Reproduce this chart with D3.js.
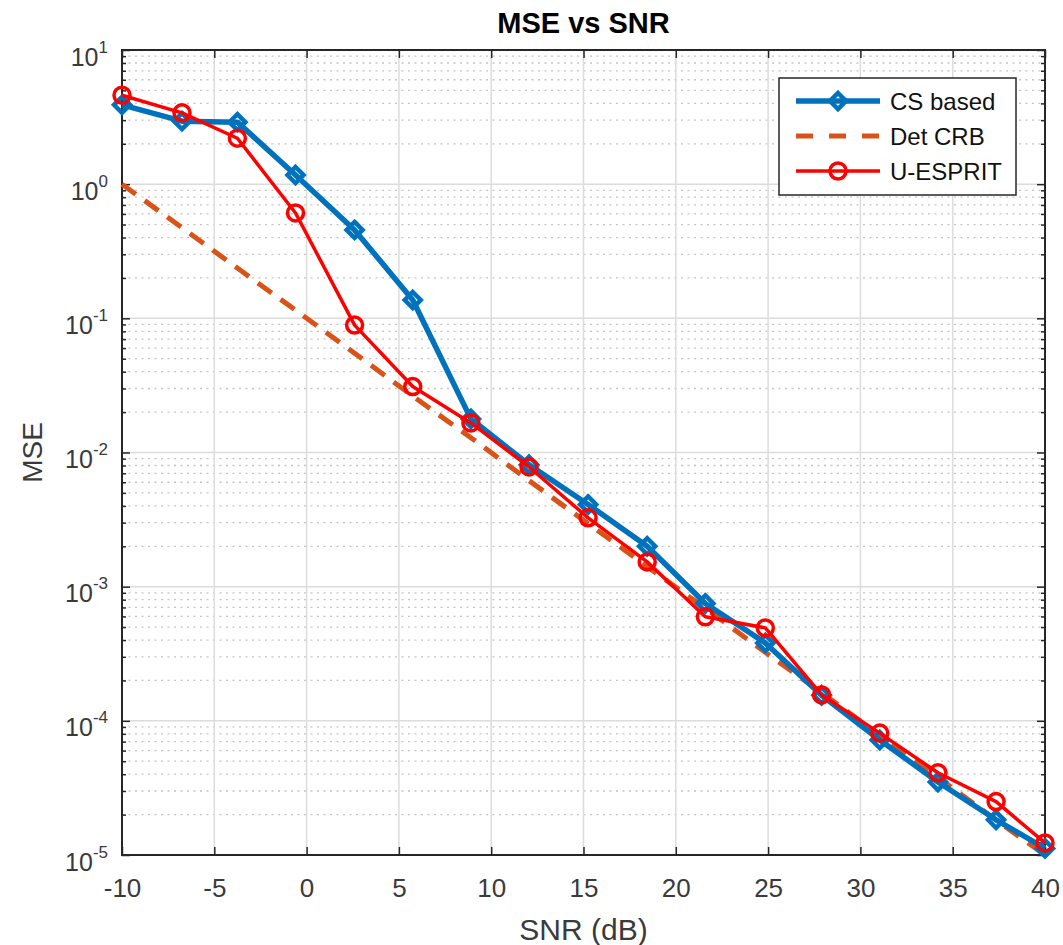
<!DOCTYPE html>
<html>
<head>
<meta charset="utf-8">
<script src="https://d3js.org/d3.v7.min.js"></script>
<style>
  body { margin: 0; background: #fff; }
  text { font-family: "Liberation Sans", Arial, sans-serif; }
</style>
</head>
<body>
<script>
const width = 1063
const height = 945
const plotLeft = 122, plotRight = 1045, plotTop = 50, plotBottom = 855

// data
const snr = [-10, -6.75, -3.75, -0.6, 2.6, 5.75, 8.9, 12.05, 15.25, 18.45, 21.6, 24.85, 27.9, 31.05, 34.2, 37.35, 40]
const csBased = [3.9, 2.95, 2.9, 1.17, 0.456, 0.137, 0.0178, 0.0081, 0.0041, 0.002, 0.00075, 0.00038, 0.000155, 7.2e-5, 3.5e-5, 1.83e-5, 1.12e-5]
const detCRB = [1.0, 0.473, 0.237, 0.115, 0.055, 0.0263, 0.0129, 0.00617, 0.00295, 0.00141, 0.00069, 0.000324, 0.000162, 7.8e-5, 3.8e-5, 1.82e-5, 1.0e-5]
const uEsprit = [4.6, 3.4, 2.2, 0.61, 0.089, 0.031, 0.0166, 0.0078, 0.00326, 0.00153, 0.000596, 0.000493, 0.000156, 8.1e-5, 4.1e-5, 2.5e-5, 1.23e-5]
const xTicks = [-10, -5, 0, 5, 10, 15, 20, 25, 30, 35, 40]
const yExponents = [1, 0, -1, -2, -3, -4, -5]
const legendLabels = ["CS based", "Det CRB", "U-ESPRIT"]

const blue = "#0072BD", orange = "#D95319", red = "#FF0000"
const axisColor = "#262626", labelColor = "#3a3a3a"

const svg = d3.select("body").append("svg").attr("width", width).attr("height", height)

const x = d3.scaleLinear().domain([-10, 40]).range([plotLeft, plotRight])
const y = d3.scaleLog().domain([1e-5, 10]).range([plotBottom, plotTop])

const majorY = yExponents.map(e => Math.pow(10, e))
const minorY = []
yExponents.slice(1).forEach(e => { for (let m = 2; m <= 9; m++) minorY.push(m * Math.pow(10, e)) })

// grid
const grid = svg.append("g")
grid.selectAll(".minor").data(minorY).enter().append("line")
    .attr("x1", plotLeft).attr("x2", plotRight)
    .attr("y1", d => y(d)).attr("y2", d => y(d))
    .attr("stroke", "#c4c4c4").attr("stroke-width", 1.3)
    .attr("stroke-dasharray", "2 4.5")
grid.selectAll(".vmaj").data(xTicks).enter().append("line")
    .attr("x1", d => x(d)).attr("x2", d => x(d))
    .attr("y1", plotTop).attr("y2", plotBottom)
    .attr("stroke", "#dcdcdc").attr("stroke-width", 1.5)
grid.selectAll(".hmaj").data(majorY).enter().append("line")
    .attr("x1", plotLeft).attr("x2", plotRight)
    .attr("y1", d => y(d)).attr("y2", d => y(d))
    .attr("stroke", "#dcdcdc").attr("stroke-width", 1.5)

// axes
function styleAxis(g) {
    g.select(".domain").remove()
    g.selectAll(".tick line").attr("stroke", axisColor).attr("stroke-width", 1.5)
}
svg.append("g").attr("transform", `translate(0,${plotBottom})`)
    .call(d3.axisBottom(x).tickValues(xTicks).tickSize(-8).tickPadding(24).tickFormat(d => String(d)))
    .call(styleAxis)
    .selectAll("text").attr("fill", labelColor).style("font-size", "26px")
svg.append("g").attr("transform", `translate(0,${plotTop})`)
    .call(d3.axisTop(x).tickValues(xTicks).tickSize(-8).tickFormat(""))
    .call(styleAxis)

const yl = svg.append("g").attr("transform", `translate(${plotLeft},0)`)
    .call(d3.axisLeft(y).tickValues(majorY).tickSize(-8).tickFormat(""))
    .call(styleAxis)
yl.selectAll(".tick").append("text")
    .attr("x", -14).attr("dy", "15px").attr("text-anchor", "end")
    .attr("fill", labelColor).style("font-size", "25px")
    .each(function (d) {
        const t = d3.select(this)
        t.append("tspan").text("10")
        t.append("tspan").attr("dy", "-13px").style("font-size", "17px").text(String(Math.round(Math.log10(d))))
    })
svg.append("g").attr("transform", `translate(${plotLeft},0)`)
    .call(d3.axisLeft(y).tickValues(minorY).tickSize(-4).tickFormat(""))
    .call(styleAxis)
svg.append("g").attr("transform", `translate(${plotRight},0)`)
    .call(d3.axisRight(y).tickValues(majorY).tickSize(-8).tickFormat(""))
    .call(styleAxis)
svg.append("g").attr("transform", `translate(${plotRight},0)`)
    .call(d3.axisRight(y).tickValues(minorY).tickSize(-4).tickFormat(""))
    .call(styleAxis)

svg.append("rect").attr("x", plotLeft).attr("y", plotTop)
    .attr("width", plotRight - plotLeft).attr("height", plotBottom - plotTop)
    .attr("fill", "none").attr("stroke", axisColor).attr("stroke-width", 2)

// series
const line = d3.line().x(d => x(d[0])).y(d => y(d[1]))
const plot = svg.append("g")

plot.append("path").datum(snr.map((s, i) => [s, detCRB[i]]))
    .attr("d", line).attr("fill", "none").attr("stroke", orange)
    .attr("stroke-width", 5).attr("stroke-dasharray", "17 11")

// MATLAB style diamond: square turned 45 degrees
const dr = 8
const diamond = `M0,${-dr}L${dr},0L0,${dr}L${-dr},0Z`
plot.append("path").datum(snr.map((s, i) => [s, csBased[i]]))
    .attr("d", line).attr("fill", "none").attr("stroke", blue)
    .attr("stroke-width", 5.5).attr("stroke-linejoin", "round")
plot.selectAll(".cs").data(snr.map((s, i) => [s, csBased[i]])).enter().append("path")
    .attr("d", diamond).attr("transform", d => `translate(${x(d[0])},${y(d[1])})`)
    .attr("fill", "none").attr("stroke", blue).attr("stroke-width", 4.5)

plot.append("path").datum(snr.map((s, i) => [s, uEsprit[i]]))
    .attr("d", line).attr("fill", "none").attr("stroke", red)
    .attr("stroke-width", 3.5).attr("stroke-linejoin", "round")
plot.selectAll(".ue").data(snr.map((s, i) => [s, uEsprit[i]])).enter().append("circle")
    .attr("cx", d => x(d[0])).attr("cy", d => y(d[1])).attr("r", 8)
    .attr("fill", "none").attr("stroke", red).attr("stroke-width", 3.5)

// legend
const lg = svg.append("g").attr("transform", "translate(779,78)")
lg.append("rect").attr("width", 237).attr("height", 117)
    .attr("fill", "#fff").attr("stroke", axisColor).attr("stroke-width", 1.5)
const rowY = [23, 58, 93]
const colors = [blue, orange, red]
legendLabels.forEach((lab, i) => {
    const ln = lg.append("line").attr("x1", 17).attr("x2", 101).attr("y1", rowY[i]).attr("y2", rowY[i])
        .attr("stroke", colors[i])
    if (i === 0) {
        ln.attr("stroke-width", 5.5)
        lg.append("path").attr("d", diamond).attr("transform", `translate(59,${rowY[i]})`)
            .attr("fill", "none").attr("stroke", blue).attr("stroke-width", 4.5)
    } else if (i === 1) {
        ln.attr("stroke-width", 5).attr("stroke-dasharray", "17 16")
    } else {
        ln.attr("stroke-width", 3.5)
        lg.append("circle").attr("cx", 59).attr("cy", rowY[i]).attr("r", 8)
            .attr("fill", "none").attr("stroke", red).attr("stroke-width", 3.5)
    }
    lg.append("text").attr("x", 111).attr("y", rowY[i]).attr("dy", "0.36em")
        .attr("fill", "#111").style("font-size", "24px").text(lab)
})

// labels
svg.append("text").attr("x", (plotLeft + plotRight) / 2).attr("y", 33).attr("text-anchor", "middle")
    .style("font-size", "29px").style("font-weight", "bold").attr("fill", "#000").text("MSE vs SNR")
svg.append("text").attr("x", (plotLeft + plotRight) / 2).attr("y", 940).attr("text-anchor", "middle")
    .style("font-size", "30px").attr("fill", labelColor).text("SNR (dB)")
svg.append("text").attr("transform", `translate(42,${(plotTop + plotBottom) / 2}) rotate(-90)`)
    .attr("text-anchor", "middle")
    .style("font-size", "28px").attr("fill", labelColor).text("MSE")
</script>
</body>
</html>
